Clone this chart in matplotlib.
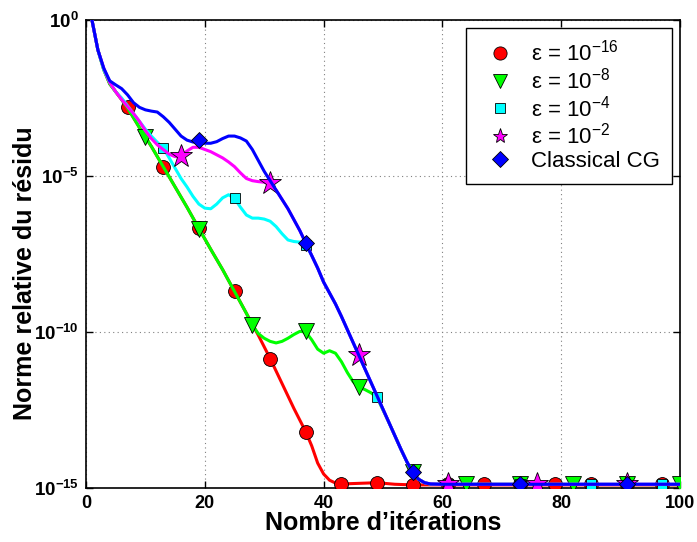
import numpy as np
import matplotlib
matplotlib.use("Agg")
import matplotlib.pyplot as plt

plt.rcParams["font.family"] = ["Liberation Sans", "DejaVu Sans"]
plt.rcParams["mathtext.fontset"] = "custom"
plt.rcParams["mathtext.rm"] = "Liberation Sans"
plt.rcParams["mathtext.bf"] = "Liberation Sans:bold"
plt.rcParams["mathtext.it"] = "Liberation Sans:italic"

# curves: iteration, log10(residual)
red_it = [1, 2, 3, 4, 5, 6, 7, 9, 11, 13, 15, 17, 19, 21, 23, 25, 27, 29, 31, 33, 35, 37,
          38, 39, 40, 41, 42, 43, 46, 49, 52, 55, 100]
red_log = [0, -0.96, -1.6, -2.05, -2.3, -2.55, -2.82, -3.45, -4.05, -4.7, -5.35, -6.0, -6.68,
           -7.35, -8.0, -8.7, -9.4, -10.1, -10.85, -11.65, -12.45, -13.2,
           -13.65, -14.2, -14.55, -14.75, -14.84, -14.87, -14.85, -14.83, -14.88, -14.9, -14.9]

green_it = [1, 2, 3, 4, 5, 6, 7, 9, 11, 13, 15, 17, 19, 21, 23, 25, 27, 28, 29, 30, 31, 32, 33,
            34, 35, 36, 37, 38, 39, 40, 41, 42, 43, 44, 45, 46, 47, 48, 49, 51, 53, 54, 55, 56,
            57, 58, 100]
green_log = [0, -0.96, -1.6, -2.05, -2.3, -2.55, -2.82, -3.45, -4.05, -4.7, -5.35, -6.0, -6.68,
             -7.35, -8.0, -8.7, -9.4, -9.78, -10.05, -10.2, -10.3, -10.35, -10.3, -10.2, -10.08,
             -9.98, -10.0, -10.25, -10.55, -10.68, -10.6, -10.68, -10.95, -11.3, -11.6, -11.76,
             -11.85, -11.95, -12.1, -12.9, -13.75, -14.15, -14.5, -14.72, -14.83, -14.88, -14.89]

cyan_it = [1, 2, 3, 4, 5, 6, 7, 8, 9, 10, 11, 12, 13, 14, 15, 16, 17, 18, 19, 20, 21, 22, 23,
           24, 25, 26, 27, 28, 29, 30, 31, 32, 33, 34, 35, 36, 37, 38, 39, 40, 41, 42, 43, 45,
           47, 49, 51, 53, 54, 55, 56, 57, 58, 60, 100]
cyan_log = [0, -0.96, -1.6, -2.0, -2.3, -2.5, -2.75, -3.0, -3.25, -3.5, -3.72, -3.92, -4.1,
            -4.42, -4.75, -5.08, -5.35, -5.65, -5.9, -6.03, -6.05, -5.9, -5.7, -5.6, -5.72,
            -6.0, -6.25, -6.35, -6.35, -6.38, -6.45, -6.62, -6.85, -7.05, -7.1, -7.12, -7.2,
            -7.55, -7.95, -8.4, -8.75, -9.1, -9.5, -10.35, -11.2, -12.05, -12.9, -13.75,
            -14.15, -14.5, -14.72, -14.83, -14.87, -14.88, -14.88]

mag_it = [1, 2, 3, 4, 5, 6, 7, 8, 9, 10, 11, 12, 13, 14, 15, 16, 17, 18, 19, 20, 21, 22, 23,
          24, 25, 26, 27, 28, 29, 30, 31, 32, 33, 34, 35, 36, 37, 38, 39, 40, 41, 42, 43, 45,
          47, 49, 51, 53, 54, 55, 56, 57, 58, 60, 100]
mag_log = [0, -0.96, -1.55, -2.0, -2.3, -2.55, -2.78, -3.0, -3.25, -3.55, -3.8, -4.0, -4.15,
           -4.3, -4.38, -4.35, -4.2, -4.08, -4.08, -4.15, -4.22, -4.32, -4.42, -4.55, -4.7,
           -4.9, -5.08, -5.15, -5.18, -5.2, -5.25, -5.45, -5.75, -6.05, -6.4, -6.75, -7.15,
           -7.55, -7.95, -8.4, -8.75, -9.1, -9.5, -10.35, -11.2, -12.05, -12.9, -13.75,
           -14.15, -14.5, -14.72, -14.83, -14.87, -14.88, -14.88]

blue_it = [1, 2, 3, 4, 5, 6, 7, 8, 9, 10, 11, 12, 13, 14, 15, 16, 17, 18, 19, 20, 21, 22, 23,
           24, 25, 26, 27, 28, 29, 30, 31, 32, 33, 34, 35, 36, 37, 38, 39, 40, 41, 42, 43, 45,
           47, 49, 51, 53, 54, 55, 56, 57, 58, 60, 100]
blue_log = [0, -0.96, -1.55, -1.95, -2.08, -2.2, -2.4, -2.65, -2.8, -2.88, -2.92, -2.95, -3.1,
            -3.28, -3.5, -3.72, -3.85, -3.91, -3.93, -3.95, -3.95, -3.9, -3.8, -3.72, -3.72,
            -3.78, -3.88, -4.15, -4.5, -4.85, -5.15, -5.45, -5.75, -6.05, -6.4, -6.75, -7.15,
            -7.55, -7.95, -8.4, -8.75, -9.1, -9.5, -10.35, -11.2, -12.05, -12.9, -13.75,
            -14.15, -14.5, -14.72, -14.83, -14.87, -14.88, -14.88]

# markers
red_mk_it = [7, 13, 19, 25, 31, 37, 43, 49, 55, 61, 67, 73, 79, 85, 91, 97]
red_mk_log = [-2.8, -4.7, -6.68, -8.7, -10.85, -13.2, -14.87, -14.84, -14.9, -14.88, -14.88,
              -14.88, -14.88, -14.88, -14.88, -14.88]
green_mk_it = [10, 19, 28, 37, 46, 55, 64, 73, 82, 91, 100]
green_mk_log = [-3.75, -6.7, -9.78, -9.98, -11.76, -14.5, -14.88, -14.88, -14.88, -14.88, -14.88]
cyan_mk_it = [13, 25, 37, 49, 61, 73, 85, 97]
cyan_mk_log = [-4.1, -5.72, -7.2, -12.08, -14.88, -14.88, -14.88, -14.88]
mag_mk_it = [16, 31, 46, 61, 76, 91]
mag_mk_log = [-4.36, -5.22, -10.74, -14.88, -14.88, -14.88]
blue_mk_it = [19, 37, 55, 73, 91]
blue_mk_log = [-3.85, -7.15, -14.5, -14.88, -14.88]

labels = [r"ε = 10$^{-16}$", r"ε = 10$^{-8}$", r"ε = 10$^{-4}$", r"ε = 10$^{-2}$", "Classical CG"]

# (x, log, marker x, marker log, colour, marker, size in plot, size in legend)
series = [
    (red_it, red_log, red_mk_it, red_mk_log, "#ff0000", "o", 10, 9.5),
    (green_it, green_log, green_mk_it, green_mk_log, "#00ff00", "v", 11, 10.5),
    (cyan_it, cyan_log, cyan_mk_it, cyan_mk_log, "#00ffff", "s", 7.5, 7.5),
    (mag_it, mag_log, mag_mk_it, mag_mk_log, "#ff00ff", "*", 17, 11),
    (blue_it, blue_log, blue_mk_it, blue_mk_log, "#0000ff", "D", 8.5, 8.5),
]

fig = plt.figure(figsize=(6.97, 5.42), dpi=100)
ax = fig.add_axes([0.1234, 0.0996, 0.8522, 0.8635])

for i, (it, lg, mit, mlg, col, mk, ms, lms) in enumerate(series):
    ax.plot(it, 10.0 ** np.array(lg), "-", color=col, lw=2.2, zorder=2 + 2 * i)
    ax.plot(mit, 10.0 ** np.array(mlg), linestyle="none", marker=mk, ms=ms,
            markerfacecolor=col, markeredgecolor="k", markeredgewidth=0.6,
            label=labels[i], zorder=3 + 2 * i)

ax.set_yscale("log")
ax.set_xlim(0, 100)
ax.set_ylim(1e-15, 1e0)
ax.set_xticks([0, 20, 40, 60, 80, 100])
ax.set_xticklabels(["0", "20", "40", "60", "80", "100"], fontweight="bold", fontsize=13)
ax.set_yticks([1e-15, 1e-10, 1e-5, 1e0])
ax.set_yticklabels([r"$\mathbf{10^{-15}}$", r"$\mathbf{10^{-10}}$", r"$\mathbf{10^{-5}}$",
                    r"$\mathbf{10^{0}}$"], fontsize=13.5)
ax.yaxis.set_minor_locator(matplotlib.ticker.NullLocator())
ax.tick_params(direction="in", length=5, width=1, top=True, right=True, pad=5)
ax.grid(True, linestyle=(0, (1, 3)), color="#808080", linewidth=0.8)
for s in ax.spines.values():
    s.set_linewidth(1.2)

ax.set_xlabel("Nombre d’itérations", fontsize=18, fontweight="bold", labelpad=-1)
ax.set_ylabel("Norme relative du résidu", fontsize=18, fontweight="bold")
ax.yaxis.set_label_coords(-0.0825, 0.459)

leg = ax.legend(loc="upper right", fontsize=16, numpoints=1, fancybox=False,
                edgecolor="k", framealpha=1, borderaxespad=0.35, borderpad=0.55,
                handlelength=2.0, handletextpad=0.4, labelspacing=0.08)
leg.get_frame().set_linewidth(1.0)
for h, s in zip(leg.legend_handles, series):
    h.set_markersize(s[7])

plt.savefig("out.png", dpi=100)
